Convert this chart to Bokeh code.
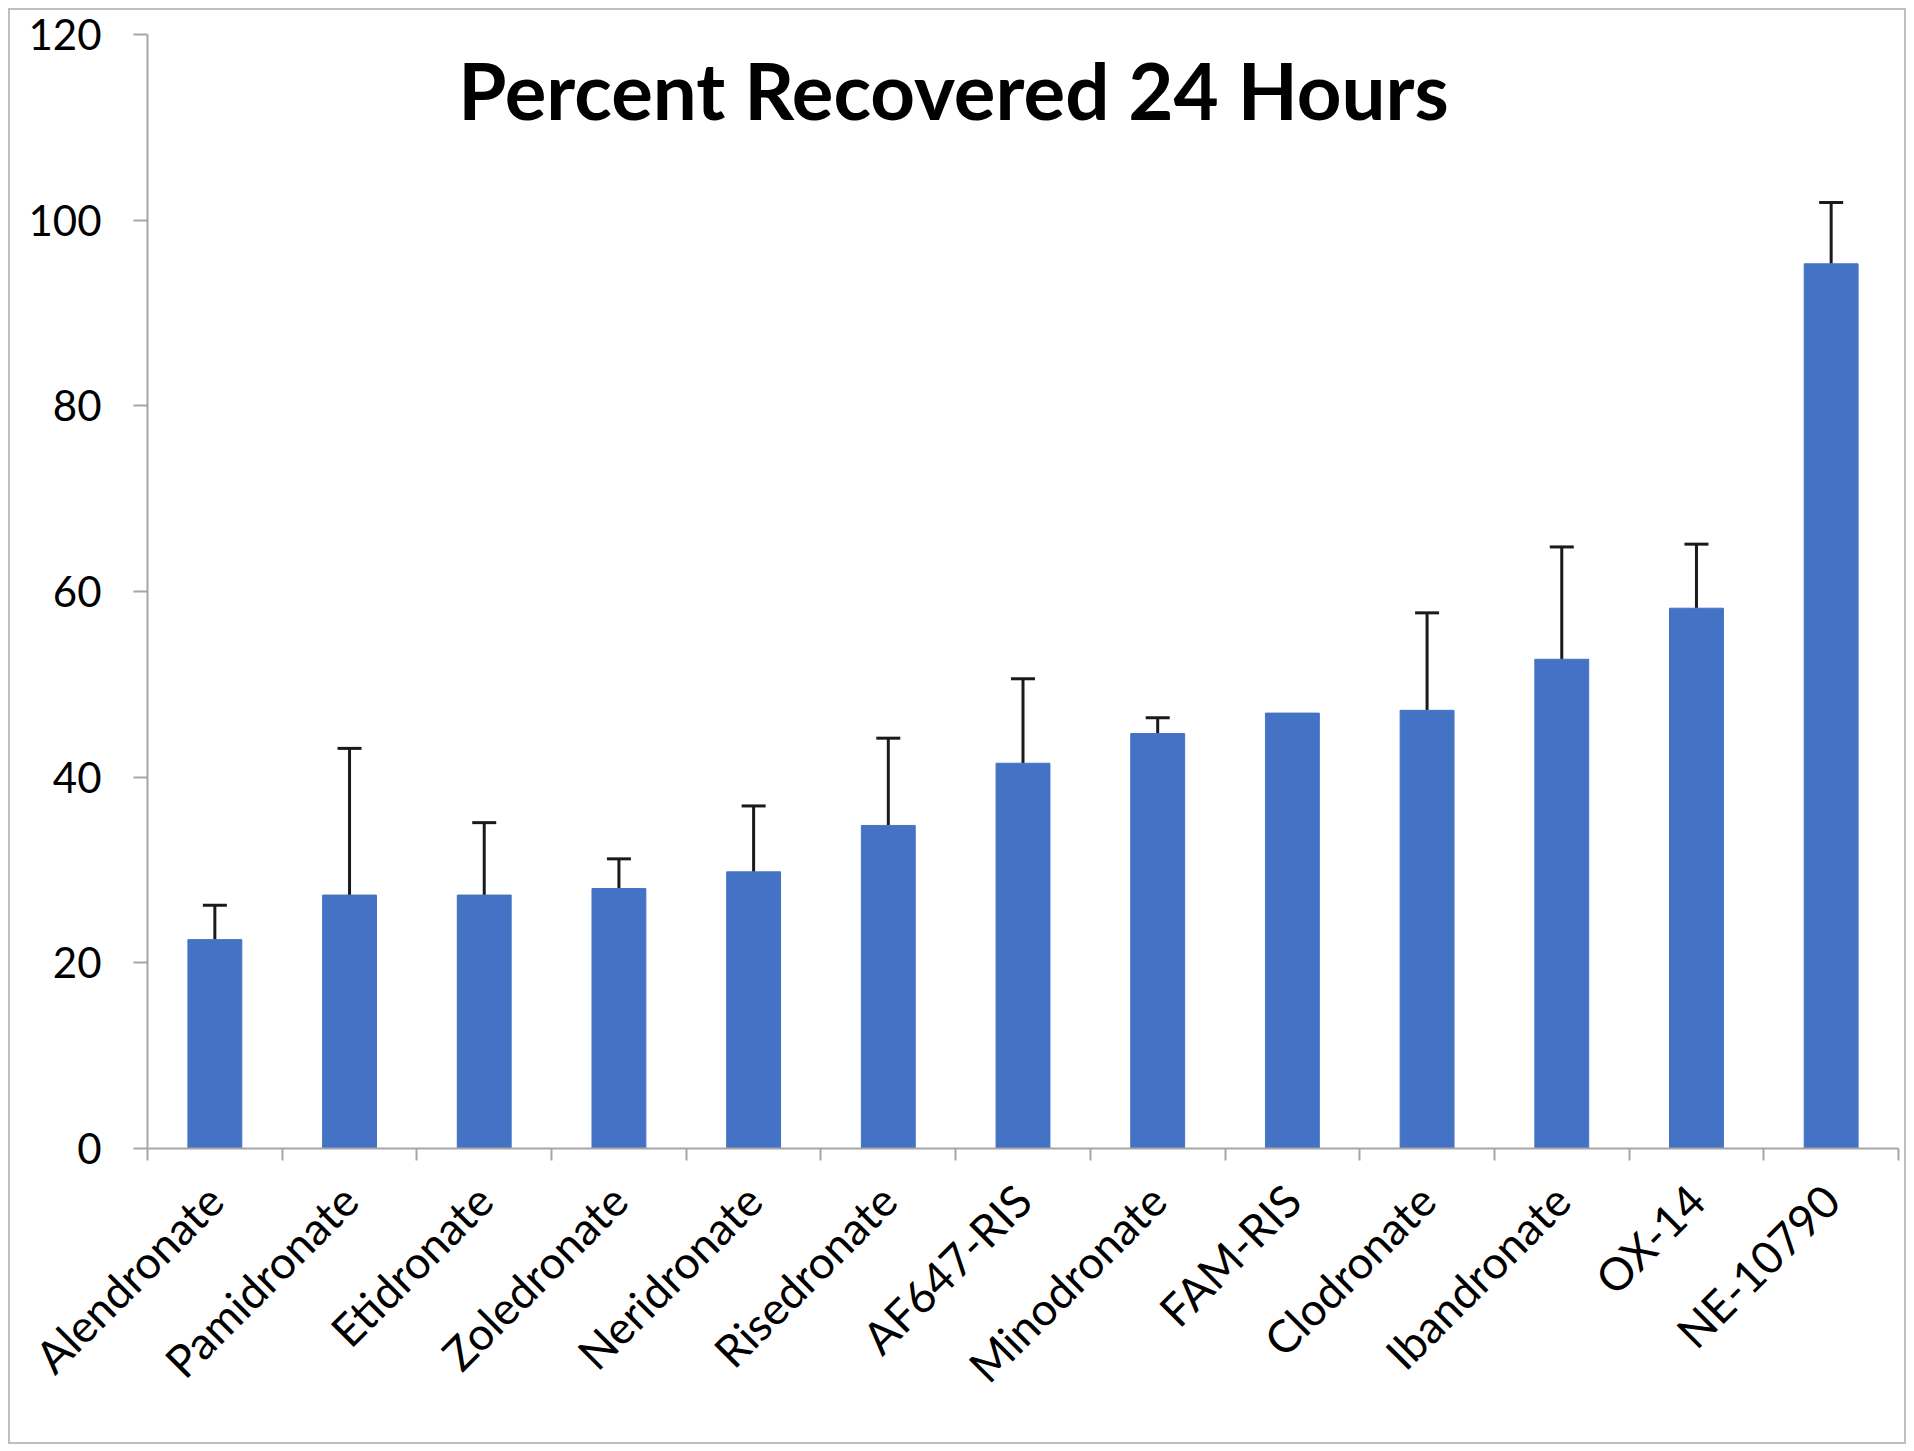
import numpy as np
from bokeh.plotting import figure
from bokeh.layouts import column
from bokeh.models import ColumnDataSource, FixedTicker, Whisker, TeeHead, Label
from bokeh.embed import file_html
from bokeh.resources import INLINE

categories = ["Alendronate", "Pamidronate", "Etidronate", "Zoledronate", "Neridronate",
              "Risedronate", "AF647-RIS", "Minodronate", "FAM-RIS", "Clodronate",
              "Ibandronate", "OX-14", "NE-10790"]
percent = [22.5, 27.3, 27.3, 28.0, 29.8, 34.8, 41.5, 44.7, 46.9, 47.2, 52.7, 58.2, 95.3]
error = [3.7, 15.8, 7.8, 3.2, 7.1, 9.4, 9.1, 1.7, 0.0, 10.5, 12.1, 6.9, 6.6]
y_ticks = [0, 20, 40, 60, 80, 100, 120]
title_text = "Percent Recovered 24 Hours"

n = len(categories)
xpos = np.arange(n) + 0.5
vals = np.array(percent)
errs = np.array(error)

src = ColumnDataSource(dict(x=xpos, top=vals, name=categories))
mask = errs > 0
err_src = ColumnDataSource(dict(x=xpos[mask], lower=vals[mask], upper=(vals + errs)[mask]))

W, H = 1894, 1432
p = figure(width=W, height=H, x_range=(0, n), y_range=(0, 120),
           output_backend="svg", toolbar_location=None,
           min_border_left=137, min_border_right=10, min_border_top=24, min_border_bottom=298)
p.styles = {"border": "2px solid #bfbfbf", "box-sizing": "content-box"}
p.outline_line_color = None
p.xgrid.visible = False
p.ygrid.visible = False
p.background_fill_color = "white"
p.border_fill_color = "white"

p.vbar(x="x", top="top", width=0.4, bottom=0, source=src,
       fill_color="#4472C4", line_color="#4472C4")

wh = Whisker(base="x", lower="lower", upper="upper", source=err_src, dimension="height",
             line_color="#1a1a1a", line_width=3,
             upper_head=TeeHead(size=24, line_color="#1a1a1a", line_width=3),
             lower_head=None)
p.add_layout(wh)

font = "Lato"
axis_color = "#a6a6a6"

# y axis
ya = p.yaxis[0]
ya.ticker = FixedTicker(ticks=y_ticks)
ya.axis_line_color = axis_color
ya.axis_line_width = 2
ya.major_tick_line_color = axis_color
ya.major_tick_line_width = 2
ya.major_tick_out = 14
ya.major_tick_in = 0
ya.minor_tick_line_color = None
ya.major_label_text_font = font
ya.major_label_text_font_size = "42px"
ya.major_label_text_color = "#000000"
ya.major_label_standoff = 32

# x axis
xa = p.xaxis[0]
xa.ticker = FixedTicker(ticks=list(xpos), minor_ticks=list(range(n + 1)))
xa.major_label_overrides = {float(x): c for x, c in zip(xpos, categories)}
xa.axis_line_color = axis_color
xa.axis_line_width = 2
xa.major_tick_line_color = None
xa.major_tick_out = 0
xa.major_tick_in = 0
xa.minor_tick_line_color = axis_color
xa.minor_tick_line_width = 2
xa.minor_tick_out = 12
xa.minor_tick_in = 0
xa.major_label_orientation = np.pi / 4
xa.major_label_text_font = font
xa.major_label_text_font_size = "45px"
xa.major_label_text_color = "#000000"
xa.major_label_standoff = 32

title = Label(x=806, y=114, x_units="screen", y_units="data", text=title_text,
              text_font=font, text_font_style="bold", text_font_size="78px",
              text_align="center", text_baseline="middle", text_color="#000000")
p.add_layout(title)

root = column(p, styles={"padding": "8px 0 0 8px", "background-color": "white"})

open("out.html", "w").write(file_html(root, INLINE))
